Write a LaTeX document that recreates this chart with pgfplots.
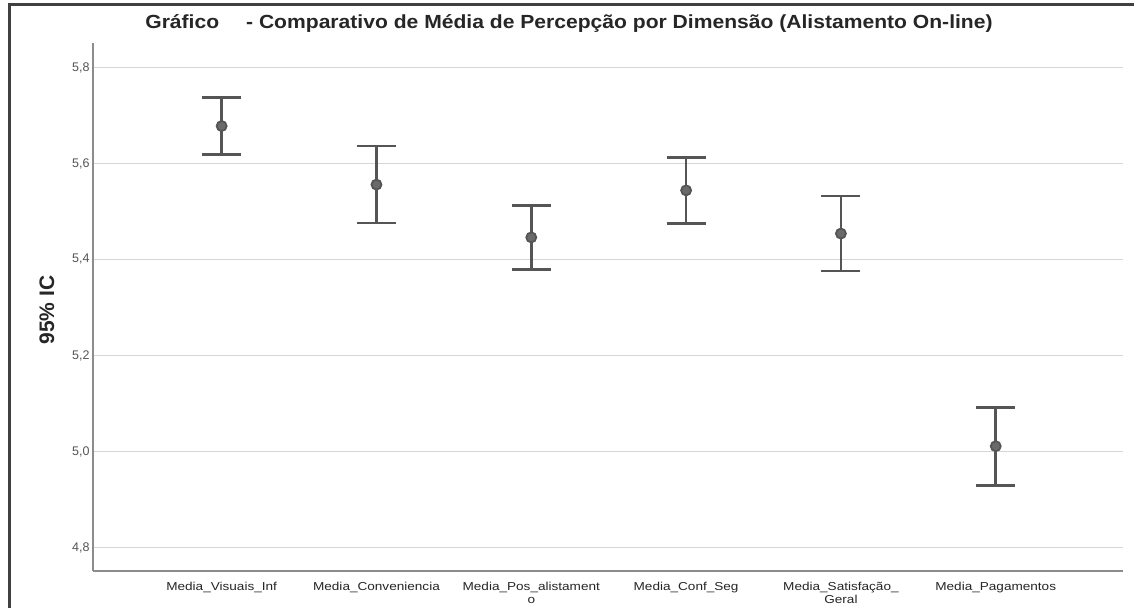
\documentclass[border=0pt]{standalone}
\usepackage{fontspec}
\setmainfont{Liberation Sans}
\usepackage{pgfplots}
\usepackage{pgfplotstable}
\pgfplotsset{compat=1.18}
\definecolor{errc}{HTML}{555555}
\definecolor{markf}{HTML}{6A6A6A}
\definecolor{gridc}{HTML}{D6D6D6}
\definecolor{axc}{HTML}{8C8C8C}
\definecolor{tickc}{HTML}{555555}
\pgfplotstableread{
x m lo hi
1 5.678 5.619 5.738
2 5.556 5.476 5.636
3 5.446 5.379 5.513
4 5.544 5.475 5.613
5 5.454 5.376 5.532
6 5.011 4.929 5.092
}\cidata
\begin{document}
\begin{tikzpicture}[x=1pt,y=1pt]
\useasboundingbox (0,0) rectangle (1134,608);
\fill[white] (0,0) rectangle (1134,608);
\draw[line width=3pt, color=black!75] (9,0) -- (9,603.5) -- (1134,603.5);
\node[font=\bfseries\fontsize{19}{22}\selectfont, text=black!85, xscale=1.11] at (569,584.5) {Gráfico\quad\ - Comparativo de Média de Percepção por Dimensão (Alistamento On-line)};
\node[font=\bfseries\fontsize{21}{24}\selectfont, rotate=90, text=black!85] at (47,298) {95\% IC};
\begin{axis}[
  at={(93pt,37pt)}, anchor=south west,
  scale only axis, width=1030pt, height=528pt,
  xmin=0.169, xmax=6.822, ymin=4.751, ymax=5.851,
  axis x line=bottom, axis y line=left,
  axis line style={-, draw=axc, line width=1.8pt},
  major tick length=0pt,
  ytick={4.8,5.0,5.2,5.4,5.6,5.8},
  yticklabels={{4,8},{5,0},{5,2},{5,4},{5,6},{5,8}},
  yticklabel style={font=\fontsize{12.5}{14}\selectfont, text=tickc},
  xtick={1,2,3,4,5,6},
  xticklabels={Media\_Visuais\_Inf, Media\_Conveniencia, {Media\_Pos\_alistament\\o}, Media\_Conf\_Seg, {Media\_Satisfação\_\\Geral}, Media\_Pagamentos},
  xticklabel style={font=\fontsize{11.5}{12.5}\selectfont, align=center, text=black!85, xscale=1.18, yshift=-8pt},
  ymajorgrids, grid style={draw=gridc, line width=1.9pt},
  clip=false,
]
\addplot[only marks, mark=*, mark size=5pt,
  mark options={fill=markf, draw=errc, line width=1.8pt},
  error bars/.cd, y dir=both, y explicit,
  error bar style={line width=2.6pt, color=errc},
  error mark options={rotate=90, line width=2.6pt, mark size=19.5pt, color=errc}]
  table[x=x, y=m, y error plus expr=\thisrow{hi}-\thisrow{m}, y error minus expr=\thisrow{m}-\thisrow{lo}] {\cidata};
\end{axis}
\end{tikzpicture}
\end{document}
